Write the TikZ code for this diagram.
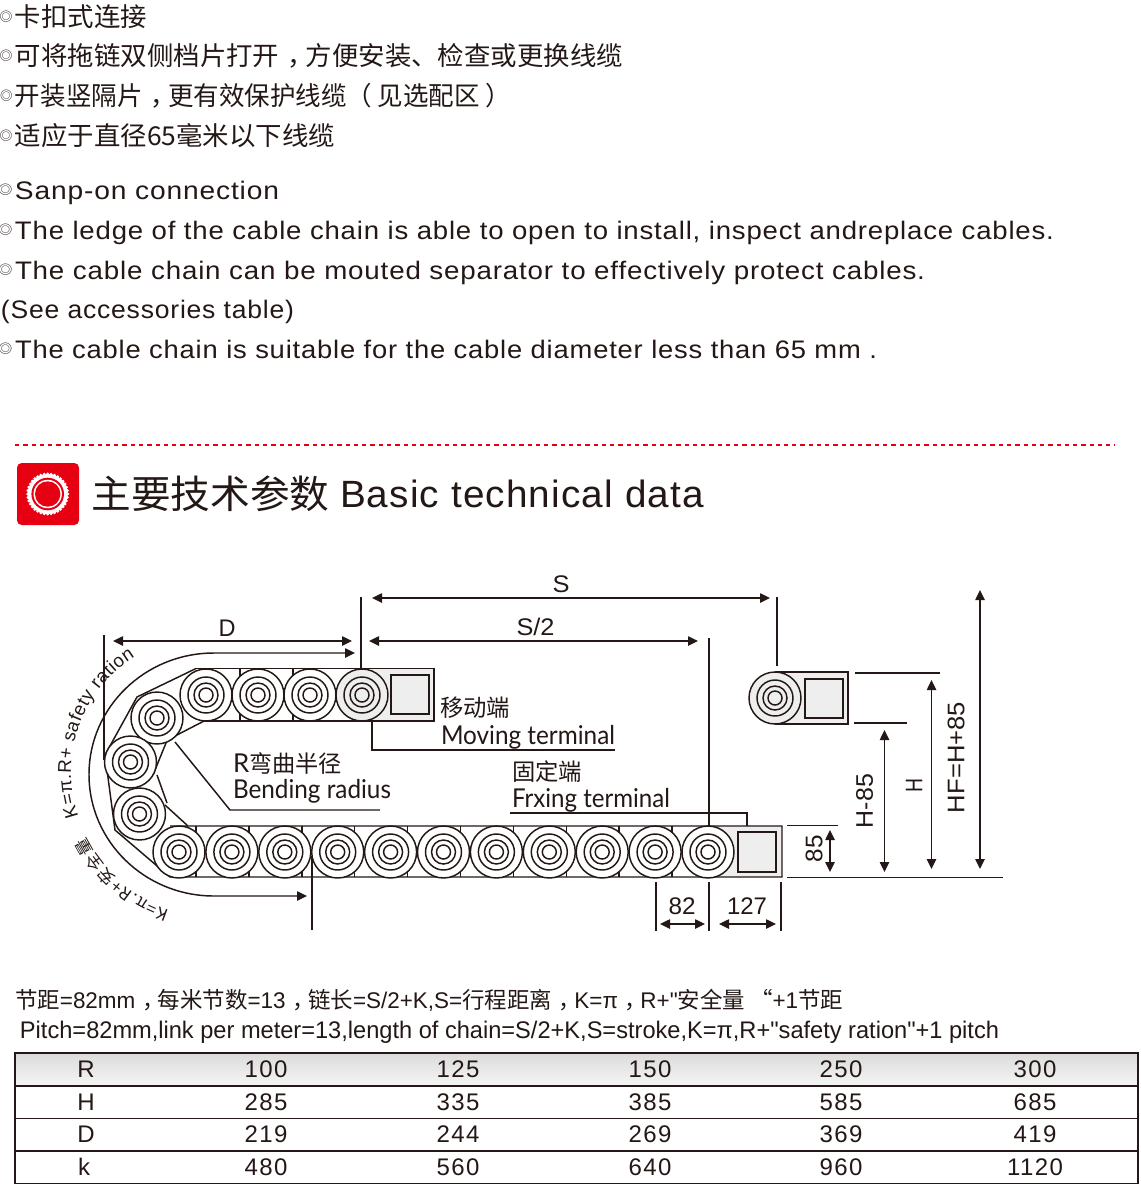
\documentclass[tikz,border=0pt]{standalone}
\usepackage{graphicx}
\usepackage{fontspec}
\usetikzlibrary{arrows.meta,decorations.text}
\setmainfont{Liberation Sans}
\newfontfamily\cjk{Noto Sans CJK SC}
\newfontfamily\plainf{Liberation Sans}
\newfontfamily\enw[LetterSpace=3]{Liberation Sans}
\newfontfamily\enn[LetterSpace=6]{Liberation Sans}
\newfontfamily\enh{Lato}
\definecolor{ink}{HTML}{231815}
\definecolor{rd}{HTML}{E60012}
\definecolor{hous}{HTML}{EEEEEE}
\newlength\pxu \setlength\pxu{0.75pt}
\newcommand\bul{\llap{\raisebox{3.7pt}{\cjk\fontsize{9.5pt}{10pt}\selectfont ◎}\hspace{1.8pt}}}
\newcommand\cm{\makebox[1em][l]{\hspace{0.3em}\cjk ，}}
\newcommand\sq{{\plainf"}}
\newcommand\cnL{\cjk\fontsize{19.5pt}{20pt}\selectfont}
\newcommand\enL{\enw\fontsize{19pt}{20pt}\selectfont}
\newcommand\lab{\fontsize{18pt}{20pt}\selectfont}
\newcommand\tnum{\enn\fontsize{18pt}{20pt}\selectfont}
% name, x, y, width, text
\newcommand\Tl[5]{\node[tx,anchor=base west] (#1) at (#2,#3) {\resizebox{#4\pxu}{\height}{#5}};}
\newcommand\Tc[5]{\node[tx,anchor=base] (#1) at (#2,#3) {\resizebox{#4\pxu}{\height}{#5}};}
\newcommand\Rv[5]{\node[tx,anchor=center,rotate=90] (#1) at (#2,#3) {\resizebox{#4\pxu}{\height}{#5}};}
% x, y, fill of body
\newcommand\roller[3]{%
  \draw[ln,fill=#3] (#1,#2) circle[radius=26];
  \draw[ln] (#1,#2) circle[radius=18];
  \draw[ln] (#1,#2) circle[radius=12];
  \draw[ln] (#1,#2) circle[radius=7];}
\newcommand\rowt[8]{%
  \node[tx,anchor=base] (l#2) at (#8,#1) {\tnum #3};
  \node[tx,anchor=base] (a#2) at (266,#1) {\tnum #4};
  \node[tx,anchor=base] (b#2) at (458,#1) {\tnum #5};
  \node[tx,anchor=base] (c#2) at (650,#1) {\tnum #6};
  \node[tx,anchor=base] (d#2) at (841,#1) {\tnum #7};}
\newcommand\cellE[3]{\node[tx,anchor=base] (e#1) at (1035,#2) {\tnum #3};}
\tikzset{
  tx/.style={inner sep=0pt,outer sep=0pt,text=ink},
  ln/.style={draw=ink,line width=1.1pt},
  dim/.style={ln,{Triangle[length=7.5pt,width=7pt]}-{Triangle[length=7.5pt,width=7pt]}},
  x=0.75pt,y=-0.75pt
}
\begin{document}
\begin{tikzpicture}
\useasboundingbox (0,0) rectangle (1140,1193);
\fill[white] (0,0) rectangle (1140,1193);
% Chinese intro
\Tl{c1}{15}{26}{132}{\bul\cnL 卡扣式连接}
\Tl{c2}{15}{65.5}{608}{\bul\cnL 可将拖链双侧档片打开\cm 方便安装、检查或更换线缆}
\Tl{c3}{15}{105}{496}{\bul\cnL 开装竖隔片\cm 更有效保护线缆（ 见选配区 ）}
\Tl{c4}{15}{145}{320}{\bul\cnL 适应于直径65毫米以下线缆}
% English intro
\Tl{e1}{15}{199}{264}{\bul\enL Sanp-on connection}
\Tl{e2}{15}{239}{1039}{\bul\enL The ledge of the cable chain is able to open to install, inspect andreplace cables.}
\Tl{e3}{15}{279}{910}{\bul\enL The cable chain can be mouted separator to effectively protect cables.}
\Tl{e4}{1}{318}{293}{\enL (See accessories table)}
\Tl{e5}{15}{358}{862}{\bul\enL The cable chain is suitable for the cable diameter less than 65 mm .}
% dotted rule
\draw[rd,line width=1.5pt,dash pattern=on 3.2pt off 3pt] (15,444.5) -- (1115,444.5);
% icon
\fill[rd,rounded corners=3.5pt] (17,463) rectangle (79,525);
\fill[white] (47.7,494) circle[radius=20];
\foreach \a in {0,10,...,350}{\fill[white] ({47.7+20*cos(\a)},{494+20*sin(\a)}) circle[radius=1.6];}
\fill[rd] (47.7,494) circle[radius=16.3];
\fill[white] (47.7,494) circle[radius=14.2];
\fill[rd] (47.7,494) circle[radius=12.7];
% title
\Tl{t1}{91.5}{508}{238}{\cjk\fontsize{29pt}{30pt}\selectfont 主要技术参数}
\Tl{t2}{340}{507.5}{364}{\enw\fontsize{28.5pt}{30pt}\selectfont Basic technical data}
% chain outline
\fill[hous] (362,668.5) rectangle (434,721);
\draw[ln,fill=hous] (362,668.5) -- (434,668.5) -- (434,721) -- (362,721);
\draw[ln,fill=hous] (391,675) rectangle (429,714);
\fill[hous] (708,826) rectangle (782,877);
\draw[ln] (196,668.5) -- (362,668.5) (204,721) -- (362,721);
\draw[ln] (196,668.5) -- (137,697) -- (105,755) -- (115,830) -- (170,877) -- (782,877) -- (782,826) -- (170,826) -- (188,826);
\draw[ln] (204,721) -- (175,736) (168,738) -- (153,775) (157,775) -- (167,803) (165,805) -- (188,826);
\draw[ln,fill=hous] (738,832) rectangle (776,872);
\foreach \i in {0,...,9}{\draw[ln] ({196+52.9*\i},826) -- ({196+52.9*\i},877);}
\draw[ln] (240,668.5) -- (240,721) (293,668.5) -- (293,721);
% rollers
\foreach \i in {0,...,10}{\roller{179+52.9*\i}{852}{white}}
\roller{206}{695}{white}\roller{258}{695}{white}\roller{310}{695}{white}\roller{362}{695}{hous}
\roller{157}{718}{white}\roller{130.5}{762}{white}\roller{139.5}{814}{white}
% separate moving end
\fill[hous] (775,672) rectangle (848,724);
\draw[ln] (775,672) -- (848,672) -- (848,724) -- (775,724);
\draw[ln,fill=hous] (805,679) rectangle (843,718);
\roller{775}{698}{hous}
% extension lines
\draw[ln] (361,597) -- (361,669);
\draw[ln] (777,597) -- (777,666);
\draw[ln] (709,638) -- (709,826);
\draw[ln] (104,635) -- (104,760);
\draw[ln] (312,856) -- (312,930);
\draw[ln] (372,721) -- (372,750) -- (615,750);
\draw[ln] (175,742) -- (230,810) -- (380,810);
\draw[ln] (510,813) -- (747,813) -- (747,826);
\draw[ln] (787,825.5) -- (838,825.5);
\draw[ln] (787,877.5) -- (1003,877.5);
\draw[ln] (855,673) -- (940,673);
\draw[ln] (854,723) -- (907,723);
\draw[ln] (656,882) -- (656,931);
\draw[ln] (709,882) -- (709,931);
\draw[ln] (781,882) -- (781,931);
% dimension arrows
\draw[dim] (372,598) -- (770,598);
\draw[dim] (369,641) -- (698,641);
\draw[dim] (113,641) -- (352,641);
\draw[dim] (355,653) -- (214,653) arc[start angle=270,end angle=90,x radius=125,y radius=121.5] -- (307,896);
\draw[dim] (830,830) -- (830,872);
\draw[dim] (884.5,730) -- (884.5,872);
\draw[dim] (931.5,680) -- (931.5,869);
\draw[dim] (980,590) -- (980,869);
\draw[dim] (660,924) -- (705,924);
\draw[dim] (719,924) -- (776,924);
% dimension labels
\Tc{lS}{561}{592}{17}{\lab S}
\Tc{lS2}{535.5}{635.5}{38}{\lab S/2}
\Tc{lD}{227}{636.5}{17}{\lab D}
\Tc{l82}{682}{914.5}{27}{\lab 82}
\Tc{l127}{747}{914.5}{40}{\lab 127}
\Rv{l85}{814}{848.5}{27}{\lab 85}
\Rv{lH85}{864.5}{801}{54}{\lab H-85}
\Rv{lH}{914}{785}{14}{\lab H}
\Rv{lHF}{956}{757.5}{111}{\lab HF=H+85}
% callouts
\Tl{m1}{440}{716}{70}{\cjk\fontsize{17.5pt}{18pt}\selectfont 移动端}
\Tl{m2}{441}{744}{174}{\enh\fontsize{19.5pt}{20pt}\selectfont Moving terminal}
\Tl{f1}{512}{780}{70}{\cjk\fontsize{17.5pt}{18pt}\selectfont 固定端}
\Tl{f2}{512}{807}{158}{\enh\fontsize{19.5pt}{20pt}\selectfont Frxing terminal}
\Tl{r1}{233}{772}{109}{\enh\fontsize{19.5pt}{20pt}\selectfont R\cjk\fontsize{17.5pt}{18pt}\selectfont 弯曲半径}
\Tl{r2}{233}{798.5}{158}{\enh\fontsize{19.5pt}{20pt}\selectfont Bending radius}
% text on the arc
\path[decorate,decoration={text along path,text align={fit to path},
  text={|\fontsize{14pt}{16pt}\selectfont\color{ink}|K=π.R+ safety ration}}]
  ({207+136*cos(161)},{772+136*sin(161)}) arc[start angle=161,end angle=238,radius=136];
\path[decorate,decoration={text along path,text align={fit to path},
  text={|\cjk\fontsize{12.5pt}{14pt}\selectfont\color{ink}|K=π.R+安全量}}]
  ({214+143*cos(108)},{774+143*sin(108)}) arc[start angle=108,end angle=154,radius=143];
% notes above the table
\Tl{n1}{15}{1008}{828}{\fontsize{17pt}{18pt}\selectfont{\cjk 节距}=82mm\cm{\cjk 每米节数}=13\cm{\cjk 链长}=S/2+K,S={\cjk 行程距离}\cm K=π\cm R+\sq{\cjk 安全量 “}+1{\cjk 节距}}
\Tl{n2}{20}{1038}{979}{\fontsize{18pt}{20pt}\selectfont Pitch=82mm,link per meter=13,length of chain=S/2+K,S=stroke,K=π,R+\sq safety ration\sq +1 pitch}
% table
\shade[top color=black!14,bottom color=black!4] (15,1053) rectangle (1138,1086);
\draw[ln] (15,1053) rectangle (1138,1183.5);
\draw[ln] (15,1086) -- (1138,1086) (15,1118.5) -- (1138,1118.5) (15,1151) -- (1138,1151);
\rowt{1077}{R}{R}{100}{125}{150}{250}{86}\cellE{R}{1077}{300}
\rowt{1110}{H}{H}{285}{335}{385}{585}{86}\cellE{H}{1110}{685}
\rowt{1142.5}{D}{D}{219}{244}{269}{369}{86}\cellE{D}{1142.5}{419}
\rowt{1175}{k}{k}{480}{560}{640}{960}{84}\cellE{k}{1175}{1120}
\end{tikzpicture}
\end{document}
